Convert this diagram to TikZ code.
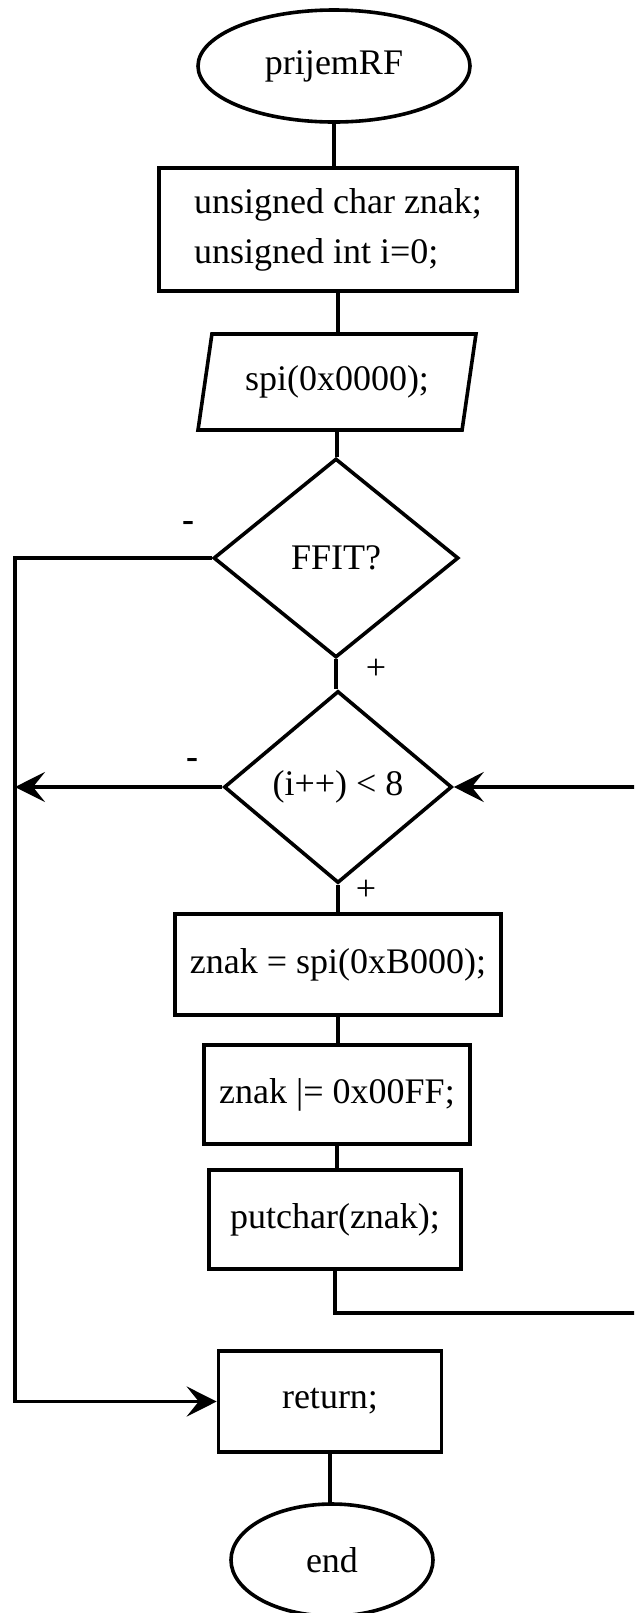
\documentclass[tikz,border=0pt]{standalone}
\usepackage{fontspec}
\setmainfont{Liberation Serif}
\usetikzlibrary{shapes.geometric,arrows.meta}
\begin{document}
\begin{tikzpicture}[x=0.5pt,y=-0.5pt,
  every node/.style={font=\fontsize{18pt}{25pt}\selectfont},
  ln/.style={line width=1.8pt},
  term/.style={rectangle,inner sep=0pt},
  termline/.style={line width=1.8pt},
  proc/.style={rectangle,draw,line width=1.8pt,inner sep=0pt},
  io/.style={trapezium,trapezium left angle=72.6,trapezium right angle=107.4,trapezium stretches=true,draw,line width=1.8pt,inner sep=0pt},
  dec/.style={diamond,draw,line width=1.8pt,inner sep=0pt},
  lbl/.style={inner sep=0pt},
  arr/.style={line width=1.8pt,-{Stealth[length=15pt,width=15pt,inset=6pt]}}
]
\path[use as bounding box] (0,0) rectangle (634,1613);
\clip (0,0) rectangle (634,1613);

\node[term,minimum width=136pt,minimum height=56pt] (start) at (334,66) {prijemRF};
\draw[termline] (start.center) ellipse [x radius=68pt, y radius=28pt];
\node[proc,minimum width=179pt,minimum height=61.5pt,align=left] (b1) at (338,229.5) {unsigned char znak;\\unsigned int i=0;};
\node[io,minimum width=139pt,minimum height=48pt] (para) at (337,382) {spi(0x0000);};
\node[dec,minimum width=122.5pt,minimum height=99.5pt] (d1) at (336,558) {FFIT?};
\node[dec,minimum width=114pt,minimum height=96pt] (d2) at (338,787) {(i++) {<} 8};
\node[proc,minimum width=163pt,minimum height=50.5pt] (b2) at (338,964.5) {znak = spi(0xB000);};
\node[proc,minimum width=133pt,minimum height=49.5pt] (b3) at (337,1094.5) {znak |= 0x00FF;};
\node[proc,minimum width=126pt,minimum height=49.5pt] (b4) at (335,1219.5) {putchar(znak);};
\node[proc,minimum width=111.5pt,minimum height=50.5pt] (ret) at (330,1401.5) {return;};
\node[term,minimum width=101pt,minimum height=56pt] (end) at (332,1560) {end};
\draw[termline] (end.center) ellipse [x radius=50.5pt, y radius=28pt];

\node[lbl] (m1) at (188,526) {\textbf{-}};
\node[lbl] (p1) at (376,669) {+};
\node[lbl] (m2) at (192,763) {\textbf{-}};
\node[lbl] (p2) at (366,890) {+};

\coordinate (rb) at (660,1313);
\coordinate (lx) at (15,1000);

\draw[ln] (start.south) -- (start.south |- b1.north);
\draw[ln] (b1.south) -- (b1.south |- para.north);
\draw[ln] (para.south) -- (para.south |- d1.north);
\draw[ln] (d1.south) -- (d1.south |- d2.north);
\draw[ln] (d2.south) -- (d2.south |- b2.north);
\draw[ln] (b2.south) -- (b2.south |- b3.north);
\draw[ln] (b3.south) -- (b3.south |- b4.north);
\draw[arr] (b4.south) |- (rb) -- (rb |- d2.east) -- (d2.east);
\draw[ln] (ret.south) -- (ret.south |- end.north);
\draw[arr] (d1.west) -- (d1.west -| lx) -- (ret.west -| lx) -- (ret.west);
\draw[arr] (d2.west) -- (d2.west -| lx);
\end{tikzpicture}
\end{document}
